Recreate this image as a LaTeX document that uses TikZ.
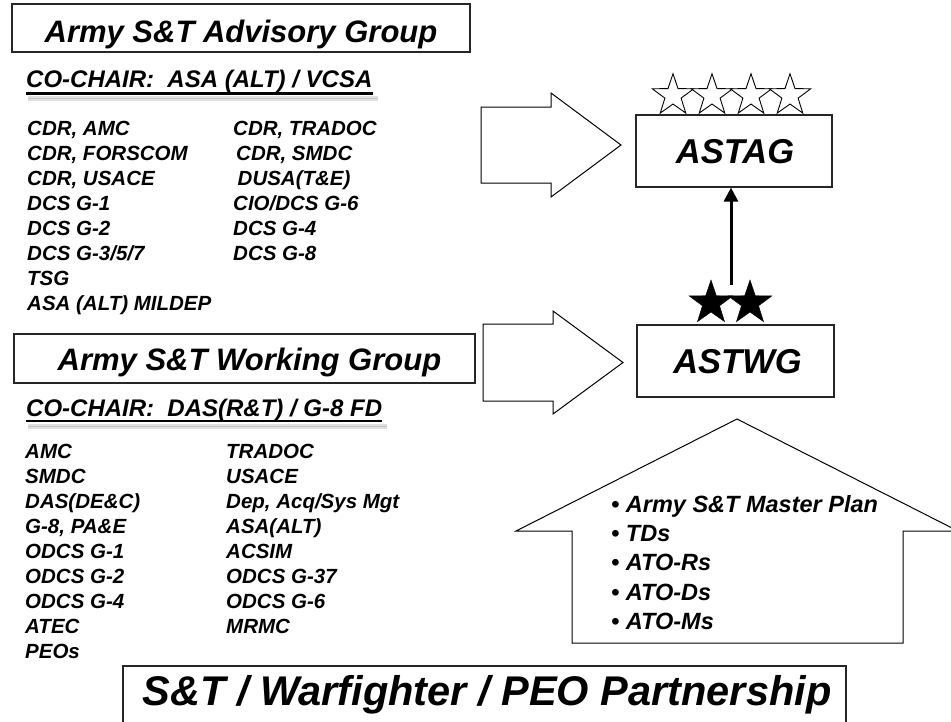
\documentclass[tikz,border=0pt]{standalone}
\usepackage{fontspec}
\setmainfont{Liberation Sans}
\usetikzlibrary{shapes.geometric,arrows.meta}
\begin{document}
\begin{tikzpicture}[x=1pt,y=-1pt,
  frame/.style={draw=black!85,line width=1.2pt,rectangle,inner sep=0pt,fill=white},
  blockarrow/.style={draw=black,line width=1pt,fill=white,line join=miter},
  title/.style={font=\fontsize{31}{36}\selectfont\bfseries\itshape,inner sep=0pt,anchor=base},
  acr/.style={font=\fontsize{34.5}{38}\selectfont\bfseries\itshape,inner sep=0pt,anchor=base},
  bigtitle/.style={font=\fontsize{41.5}{46}\selectfont\bfseries\itshape,inner sep=0pt,anchor=base},
  chair/.style={font=\fontsize{24}{28}\selectfont\bfseries\itshape,inner sep=0pt,anchor=base west},
  member/.style={font=\fontsize{20.5}{24}\selectfont\bfseries\itshape,inner sep=0pt,anchor=base west},
  plan/.style={font=\fontsize{23.5}{28}\selectfont\bfseries\itshape,inner sep=0pt,anchor=base west},
  hollowstar/.style={star,star points=5,star point ratio=2.55,minimum size=43.5pt,inner sep=0pt,draw=black,line width=0.9pt,fill=white},
  solidstar/.style={star,star points=5,star point ratio=2.55,minimum size=46pt,inner sep=0pt,draw=black,fill=black},
  uline/.style={line width=2.4pt,black},
  ushadow/.style={line width=3pt,black,opacity=0.12}
]
\useasboundingbox (0,0) rectangle (951,721);
\clip (0,0) rectangle (951,721);
\fill[white] (0,0) rectangle (951,721);

% ---------- Advisory group ----------
\node[frame,minimum width=458pt,minimum height=48pt] (advbox) at (241,28) {};
\node[title] (advt) at (241,42) {Army S\&T Advisory Group};

\node[chair] (ch1) at (26,87) {CO-CHAIR:~~ASA (ALT) / VCSA};
\draw[ushadow] ([shift={(2pt,-10pt)}]ch1.base west) -- ([shift={(5pt,-10pt)}]ch1.base east);
\draw[ushadow] ([shift={(2pt,-12pt)}]ch1.base west) -- ([shift={(5pt,-12pt)}]ch1.base east);
\draw[uline] ([yshift=-6.5pt]ch1.base west) -- ([yshift=-6.5pt]ch1.base east);

\node[member] (a1) at (27,135) {CDR, AMC};
\node[member] (a2) at (27,160) {CDR, FORSCOM};
\node[member] (a3) at (27,185) {CDR, USACE};
\node[member] (a4) at (27,210) {DCS G-1};
\node[member] (a5) at (27,235) {DCS G-2};
\node[member] (a6) at (27,260) {DCS G-3/5/7};
\node[member] (a7) at (27,285) {TSG};
\node[member] (a8) at (27,310) {ASA (ALT) MILDEP};

\node[member] (b1) at (233,135) {CDR, TRADOC};
\node[member] (b2) at (236,160) {CDR, SMDC};
\node[member] (b3) at (237.5,185) {DUSA(T\&E)};
\node[member] (b4) at (233,210) {CIO/DCS G-6};
\node[member] (b5) at (233,235) {DCS G-4};
\node[member] (b6) at (233,260) {DCS G-8};

% ---------- Working group ----------
\node[frame,minimum width=461pt,minimum height=49pt] (wgbox) at (244.5,358.5) {};
\node[title] (wgt) at (249.5,370) {Army S\&T Working Group};

\node[chair] (ch2) at (26,416) {CO-CHAIR:~~DAS(R\&T) / G-8 FD};
\draw[ushadow] ([shift={(2pt,-9pt)}]ch2.base west) -- ([shift={(5pt,-9pt)}]ch2.base east);
\draw[ushadow] ([shift={(2pt,-11pt)}]ch2.base west) -- ([shift={(5pt,-11pt)}]ch2.base east);
\draw[uline] ([yshift=-5pt]ch2.base west) -- ([yshift=-5pt]ch2.base east);

\node[member] (c1) at (25,458) {AMC};
\node[member] (c2) at (25,483) {SMDC};
\node[member] (c3) at (25,508) {DAS(DE\&C)};
\node[member] (c4) at (25,533) {G-8, PA\&E};
\node[member] (c5) at (25,558) {ODCS G-1};
\node[member] (c6) at (25,583) {ODCS G-2};
\node[member] (c7) at (25,608) {ODCS G-4};
\node[member] (c8) at (25,633) {ATEC};
\node[member] (c9) at (25,658) {PEOs};

\node[member] (d1) at (226,458) {TRADOC};
\node[member] (d2) at (226,483) {USACE};
\node[member] (d3) at (226,508) {Dep, Acq/Sys Mgt};
\node[member] (d4) at (226,533) {ASA(ALT)};
\node[member] (d5) at (226,558) {ACSIM};
\node[member] (d6) at (226,583) {ODCS G-37};
\node[member] (d7) at (226,608) {ODCS G-6};
\node[member] (d8) at (226,633) {MRMC};

% ---------- Block arrows ----------
\draw[blockarrow] (481,107) -- (551,107) -- (551,93) -- (621,145) -- (551,197) -- (551,183) -- (481,183) -- cycle;
\draw[blockarrow] (483,324) -- (553,324) -- (553,311) -- (623,362.5) -- (553,414) -- (553,401) -- (483,401) -- cycle;

% ---------- ASTAG / ASTWG ----------
\node[frame,minimum width=196pt,minimum height=72pt] (astag) at (734,151) {};
\node[acr] (astagt) at (735,163) {ASTAG};
\node[frame,minimum width=197pt,minimum height=72pt] (astwg) at (735.5,361) {};
\node[acr] (astwgt) at (737.5,373) {ASTWG};

\node[hollowstar] (s1) at (673,95.5) {};
\node[hollowstar] (s2) at (712,95.5) {};
\node[hollowstar] (s3) at (751,95.5) {};
\node[hollowstar] (s4) at (790,95.5) {};

\node[solidstar] (f1) at (711,303) {};
\node[solidstar] (f2) at (750,303) {};

\coordinate (vstart) at (731,285);
\draw[line width=3pt,-{Triangle[length=14pt,width=14pt]}] (vstart) -- (vstart |- astag.south);

% ---------- House ----------
\draw[blockarrow] (572,643) -- (572,531) -- (516,531) -- (737,419) -- (958,531) -- (903,531) -- (903,643) -- cycle;
\node[plan] (p1) at (611,512) {• Army S\&T Master Plan};
\node[plan] (p2) at (611,541) {• TDs};
\node[plan] (p3) at (611,570.5) {• ATO-Rs};
\node[plan] (p4) at (611,600) {• ATO-Ds};
\node[plan] (p5) at (611,629) {• ATO-Ms};

% ---------- Partnership ----------
\node[frame,minimum width=723pt,minimum height=80pt] (ptbox) at (484.5,706) {};
\node[bigtitle] (ptt) at (487,705) {S\&T / Warfighter / PEO Partnership};
\end{tikzpicture}
\end{document}
